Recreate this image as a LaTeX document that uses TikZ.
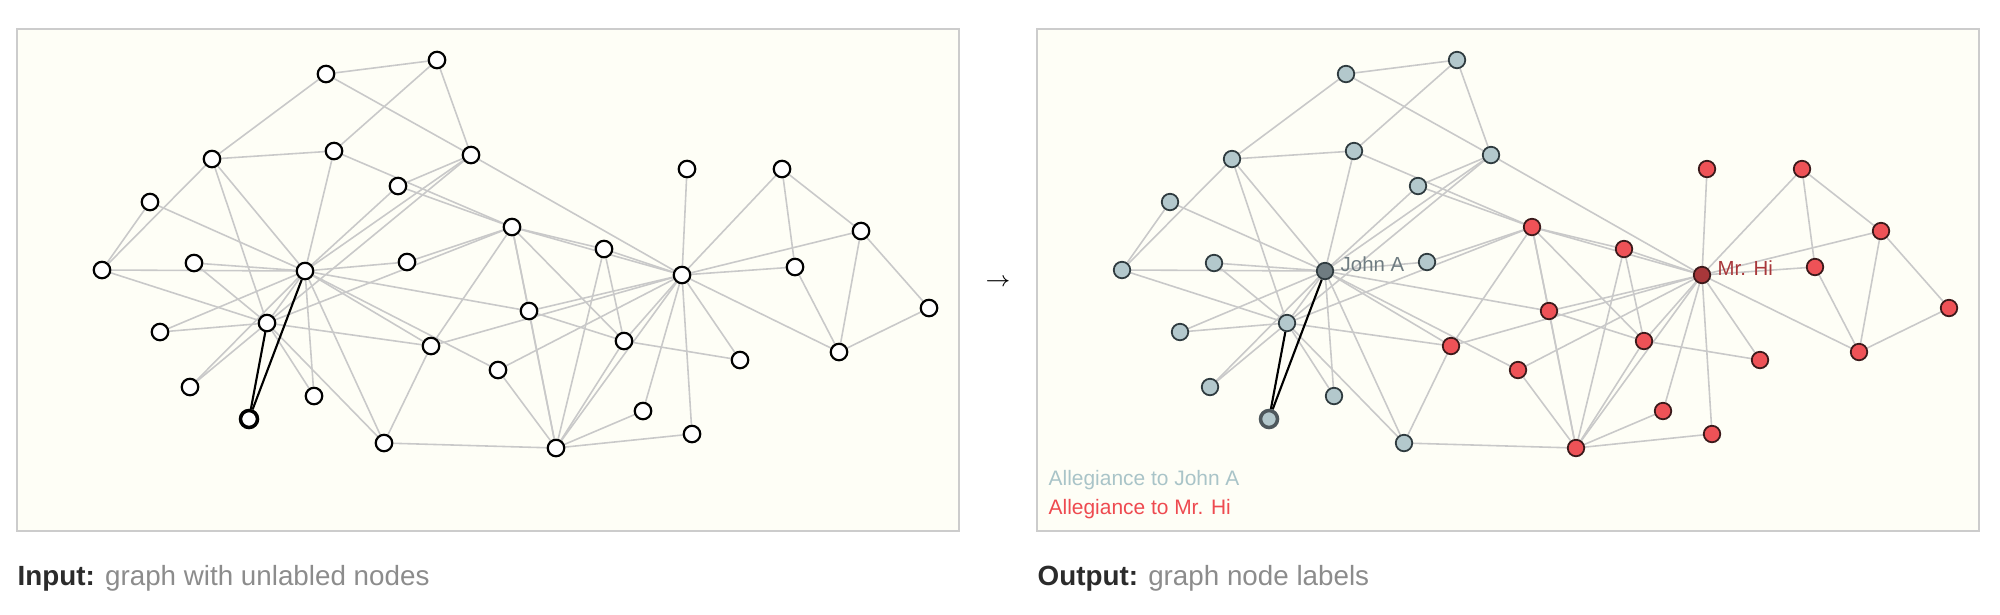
\documentclass[tikz,border=0pt]{standalone}
\usepackage{fontspec}
\setmainfont{Liberation Sans}
\usetikzlibrary{positioning}
\definecolor{PanelBg}{HTML}{FEFEF6}
\definecolor{PanelLine}{HTML}{CCCCCC}
\definecolor{EdgeGray}{HTML}{C9C9C9}
\definecolor{InkDark}{HTML}{2B2B2B}
\definecolor{InkSoft}{HTML}{8C8C8C}
\definecolor{JohnFill}{HTML}{B3C8CC}
\definecolor{JohnLine}{HTML}{2F3B3F}
\definecolor{JohnHub}{HTML}{6F7C81}
\definecolor{JohnText}{HTML}{A9C4C8}
\definecolor{HiFill}{HTML}{EE5257}
\definecolor{HiLine}{HTML}{3B1A1B}
\definecolor{HiHub}{HTML}{A8373A}
\definecolor{HiText}{HTML}{EE4A50}
\pgfdeclarelayer{background}
\pgfdeclarelayer{edges}
\pgfsetlayers{background,edges,main}
% karate club members: id/x/y/group
\newcommand{\karatepos}{0/682/275/hh, 1/556/448/h, 2/512/227/h, 3/624/341/h,
  4/782/169/h, 5/839/352/h, 6/861/231/h, 7/604/249/h, 8/431/346/h, 9/407/262/j,
  10/795/267/h, 11/687/169/h, 12/740/360/h, 13/529/311/h, 14/194/263/j,
  15/160/332/j, 16/929/308/h, 17/643/411/h, 18/190/387/j, 19/498/370/h,
  20/314/396/j, 21/692/434/h, 22/249/419/jb, 23/212/159/j, 24/437/60/j,
  25/326/74/j, 26/150/202/j, 27/334/151/j, 28/398/186/j, 29/102/270/j,
  30/384/443/j, 31/471/155/j, 32/267/323/j, 33/305/271/jj}
\newcommand{\karateedges}{0/1,0/2,0/3,0/4,0/5,0/6,0/7,0/8,0/10,0/11,0/12,0/13,
  0/17,0/19,0/21,0/31,1/2,1/3,1/7,1/13,1/17,1/19,1/21,1/30,2/3,2/7,2/8,2/9,
  2/13,2/27,2/28,2/32,3/7,3/12,3/13,4/6,4/10,5/6,5/10,5/16,6/16,8/30,8/32,
  8/33,9/33,13/33,14/32,14/33,15/32,15/33,18/32,18/33,19/33,20/32,20/33,
  23/25,23/27,23/29,23/32,23/33,24/25,24/27,24/31,25/31,26/29,26/33,27/33,
  28/31,28/33,29/32,29/33,30/32,30/33,31/32,31/33,32/33}
\tikzset{
  panelbox/.style={fill=PanelBg, draw=PanelLine, line width=0.6pt},
  gedge/.style={draw=EdgeGray, line width=0.45pt},
  hedge/.style={draw=black, line width=0.6pt},
  inode/.style={circle, draw=black, line width=0.62pt, fill=white,
             minimum size=0.165cm, inner sep=0pt},
  inp-h/.style={inode}, inp-hh/.style={inode},
  inp-j/.style={inode}, inp-jj/.style={inode},
  inp-jb/.style={inode, line width=1pt, minimum size=0.17cm},
  onode/.style={circle, line width=0.5pt, minimum size=0.165cm, inner sep=0pt},
  out-h/.style={onode, fill=HiFill, draw=HiLine},
  out-hh/.style={onode, fill=HiHub, draw=HiLine},
  out-j/.style={onode, fill=JohnFill, draw=JohnLine},
  out-jj/.style={onode, fill=JohnHub, draw=JohnLine},
  out-jb/.style={onode, fill=JohnFill, draw=JohnLine!85, line width=1pt, minimum size=0.17cm},
  hublabel/.style={font=\fontsize{5.8}{6.5}\selectfont, inner sep=0pt, anchor=base west},
  legend/.style={font=\fontsize{5.95}{7}\selectfont, inner sep=0pt, anchor=base west},
  caption/.style={font=\fontsize{7.9}{9}\selectfont, inner sep=0pt, anchor=base west, text=InkDark},
}
\begin{document}
\begin{tikzpicture}[x=0.01cm, y=-0.01cm]
\useasboundingbox (0,0) rectangle (2000,614);
% ===================== input: graph with unlabeled nodes
\begin{scope}
  \begin{pgfonlayer}{background}
    \draw[panelbox] (17,29) rectangle (959,531);
  \end{pgfonlayer}
  \foreach \n/\x/\y/\g in \karatepos {\node[inp-\g] (a\n) at (\x,\y) {};}
  \begin{pgfonlayer}{edges}
    \foreach \u/\v in \karateedges {\draw[gedge] (a\u) -- (a\v);}
    \draw[hedge] (a22) -- (a32);
    \draw[hedge] (a22) -- (a33);
  \end{pgfonlayer}
  \node[caption] (capin) at (17,585) {\textbf{Input:} {\color{InkSoft}graph with unlabled nodes}};
\end{scope}
\node[font=\fontsize{5.7}{6}\selectfont, inner sep=0pt] (arr) at (998,282) {$\rightarrow$};
% ===================== output: node labels
\begin{scope}[shift={(1020,0)}]
  \begin{pgfonlayer}{background}
    \draw[panelbox] (17,29) rectangle (959,531);
  \end{pgfonlayer}
  \foreach \n/\x/\y/\g in \karatepos {\node[out-\g] (b\n) at (\x,\y) {};}
  \begin{pgfonlayer}{edges}
    \foreach \u/\v in \karateedges {\draw[gedge] (b\u) -- (b\v);}
    \draw[hedge] (b22) -- (b32);
    \draw[hedge] (b22) -- (b33);
  \end{pgfonlayer}
  \node[hublabel, text=JohnHub] (lbjohn) at ([xshift=0.15cm]b33.center) {John A};
  \node[hublabel, text=HiHub] (lbhi) at ([xshift=0.15cm]b0.center) {Mr. Hi};
  \node[legend, text=JohnText] (lgjohn) at (28,485) {Allegiance to John A};
  \node[legend, text=HiText] (lghi) at (28,514) {Allegiance to Mr. Hi};
  \node[caption] (capout) at (17,585) {\textbf{Output:} {\color{InkSoft}graph node labels}};
\end{scope}
\end{tikzpicture}
\end{document}
